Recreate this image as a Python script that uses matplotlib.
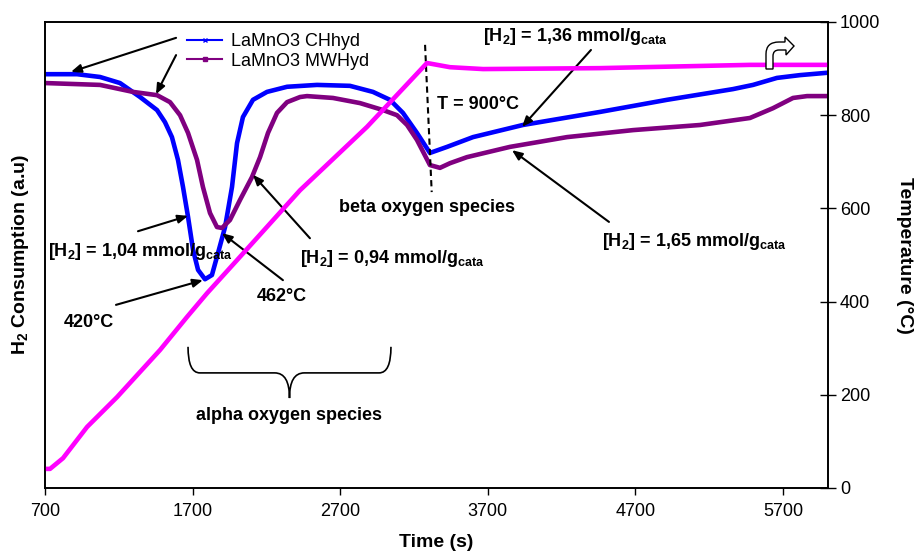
import matplotlib
matplotlib.use("Agg")
import matplotlib.pyplot as plt
from matplotlib.path import Path
from matplotlib.patches import PathPatch
from matplotlib.lines import Line2D

plt.rcParams['font.family'] = ['Liberation Sans', 'DejaVu Sans']
plt.rcParams['mathtext.fontset'] = 'custom'
plt.rcParams['mathtext.rm'] = 'Liberation Sans:bold'
plt.rcParams['mathtext.it'] = 'Liberation Sans:bold'
plt.rcParams['mathtext.bf'] = 'Liberation Sans:bold'

# LaMnO3 CHhyd (a.u., drawn on the same 0-1000 scale)
t_ch = [700, 917, 1073, 1208, 1344, 1459, 1513, 1560, 1601, 1635, 1669, 1703, 1737,
        1784, 1831, 1872, 1920, 1967, 2001, 2041, 2109, 2204, 2340, 2543, 2766, 2922,
        3037, 3125, 3220, 3308, 3424, 3600, 3938, 4460, 4914, 5361, 5497, 5659, 5815, 5998]
h_ch = [888, 888, 882, 869, 839, 811, 785, 753, 704, 646, 582, 511, 468,
        448, 457, 504, 560, 646, 740, 796, 833, 850, 861, 865, 863, 850,
        833, 805, 762, 719, 732, 753, 779, 807, 833, 856, 865, 880, 886, 891]

# LaMnO3 MWHyd
t_mw = [700, 1073, 1296, 1459, 1547, 1615, 1669, 1730, 1770, 1818, 1865, 1899, 1953,
        2021, 2102, 2157, 2211, 2272, 2340, 2428, 2475, 2651, 2834, 2990, 3085, 3153,
        3220, 3308, 3376, 3444, 3559, 3850, 4237, 4684, 5138, 5476, 5632, 5768, 5863, 5998]
h_mw = [869, 865, 850, 843, 828, 800, 762, 704, 646, 590, 560, 558, 575,
        618, 667, 710, 762, 805, 828, 839, 841, 837, 826, 811, 800, 779,
        747, 693, 687, 697, 710, 732, 753, 768, 779, 794, 815, 837, 841, 841]

# temperature programme
t_temp = [700, 734, 822, 985, 1188, 1479, 1662, 1798, 2001, 2428, 2882, 3288, 3444,
          3668, 4460, 5476, 5998]
temp = [41, 41, 64, 131, 195, 296, 367, 418, 489, 639, 775, 912, 903,
        899, 901, 908, 908]

xticks = [700, 1700, 2700, 3700, 4700, 5700]
yticks_r = [0, 200, 400, 600, 800, 1000]

fig = plt.figure(figsize=(9.16, 5.52), dpi=100)
ax = fig.add_axes([45/916, 64/552, 783/916, 466/552])
ax2 = ax.twinx()

ax.plot(t_ch, h_ch, color='#0000ff', lw=3.3, solid_joinstyle='round')
ax.plot(t_mw, h_mw, color='#800080', lw=3.3, solid_joinstyle='round')
ax2.plot(t_temp, temp, color='#ff00ff', lw=3.3, solid_joinstyle='round')

ax.set_xlim(700, 6005)
ax.set_ylim(0, 1000)
ax2.set_ylim(0, 1000)
ax.set_yticks([])
ax.set_xticks(xticks)
ax.tick_params(axis='x', direction='out', length=5, width=1, labelsize=13, pad=6)
ax2.set_yticks(yticks_r)
ax2.tick_params(axis='y', direction='inout', length=11, width=1, labelsize=13, pad=3)
for a in (ax, ax2):
    for s in a.spines.values():
        s.set_linewidth(1.2)

ax.set_xlabel('Time (s)', fontsize=14, fontweight='bold', labelpad=10)
ax.set_ylabel('H$_2$ Consumption (a.u)', fontsize=14, fontweight='bold', labelpad=10)
ax2.set_ylabel('Temperature (°C)', fontsize=14, fontweight='bold', rotation=-90,
               va='center')
ax2.yaxis.set_label_coords(1.098, 0.5)

handles = [Line2D([], [], color='#0000ff', lw=1.5, marker='x', ms=3),
           Line2D([], [], color='#800080', lw=1.5, marker='s', ms=3)]
ax.legend(handles, ['LaMnO3 CHhyd', 'LaMnO3 MWHyd'], loc='upper left',
          bbox_to_anchor=(0.168, 1.0), frameon=False, fontsize=13,
          handlelength=1.9, handletextpad=0.5, labelspacing=0.15, borderpad=0.1)

# dashed line at 900 C
ax.plot([3275, 3320], [951, 635], color='black', lw=1.5, ls=(0, (3, 2)))

bold = dict(fontsize=13, fontweight='bold')
ax.text(3356, 824, 'T = 900°C', ha='left', va='center', **bold)
ax.text(3288, 603, 'beta oxygen species', ha='center', va='center', **bold)
ax.text(2353, 155, 'alpha oxygen species', ha='center', va='center', **bold)

notes = [
    ('[H$_2$] = 1,36 mmol/g$_{cata}$', (3667, 968), (4399, 940), (3932, 775)),
    ('[H$_2$] = 1,65 mmol/g$_{cata}$', (4474, 528), (4521, 571), (3864, 725)),
    ('[H$_2$] = 1,04 mmol/g$_{cata}$', (720, 507), (1330, 551), (1669, 584)),
    ('[H$_2$] = 0,94 mmol/g$_{cata}$', (2428, 492), (2495, 536), (2109, 672)),
    ('420°C', (829, 356), (1181, 393), (1770, 446)),
    ('462°C', (2136, 410), (2312, 446), (1899, 547)),
    ('', None, (1588, 966), (876, 893)),
    ('', None, (1588, 929), (1452, 845)),
]
for label, pos, start, end in notes:
    if label:
        ax.text(pos[0], pos[1], label, ha='left', va='center', **bold)
    ax.annotate('', xy=end, xytext=start,
                arrowprops=dict(arrowstyle='-|>,head_length=0.6,head_width=0.25',
                                color='black', lw=1.5, shrinkA=0, shrinkB=0))

# curly brace under the alpha peaks
x0, x1, ytop, ymid, ytip = 1669, 3044, 303, 247, 193
xm = (x0 + x1) / 2
verts = [(x0, ytop), (x0, ymid), (x0 + 80, ymid), (x0 + 120, ymid),
         (xm - 100, ymid), (xm - 100, ymid), (xm - 100, ymid),
         (xm, ymid), (xm, ytip), (xm, ytip),
         (xm, ymid), (xm + 100, ymid), (xm + 100, ymid),
         (x1 - 120, ymid), (x1 - 80, ymid), (x1 - 80, ymid),
         (x1, ymid), (x1, ytop)]
codes = [Path.MOVETO, Path.CURVE3, Path.CURVE3, Path.LINETO,
         Path.LINETO, Path.LINETO, Path.LINETO,
         Path.CURVE3, Path.CURVE3, Path.LINETO,
         Path.CURVE3, Path.CURVE3, Path.LINETO,
         Path.LINETO, Path.LINETO, Path.LINETO,
         Path.CURVE3, Path.CURVE3]
ax.add_patch(PathPatch(Path(verts, codes), fill=False, lw=1.2, color='black'))


# bent arrow icon (figure pixels)
def px(x, y):
    return (x / 916, 1 - y / 552)


arrow_pts = [px(766, 69), px(766, 54), px(766, 42), px(779, 42), px(785, 42),
             px(785, 37), px(794, 46), px(786, 55), px(786, 50), px(779, 50),
             px(773, 50), px(773, 56), px(773, 69), px(766, 69)]
arrow_codes = [Path.MOVETO, Path.LINETO, Path.CURVE3, Path.CURVE3, Path.LINETO,
               Path.LINETO, Path.LINETO, Path.LINETO, Path.LINETO, Path.LINETO,
               Path.CURVE3, Path.CURVE3, Path.LINETO, Path.CLOSEPOLY]
fig.add_artist(PathPatch(Path(arrow_pts, arrow_codes), facecolor='white',
                         edgecolor='black', lw=1.0, transform=fig.transFigure, zorder=5))

fig.savefig('out.png', dpi=100)
